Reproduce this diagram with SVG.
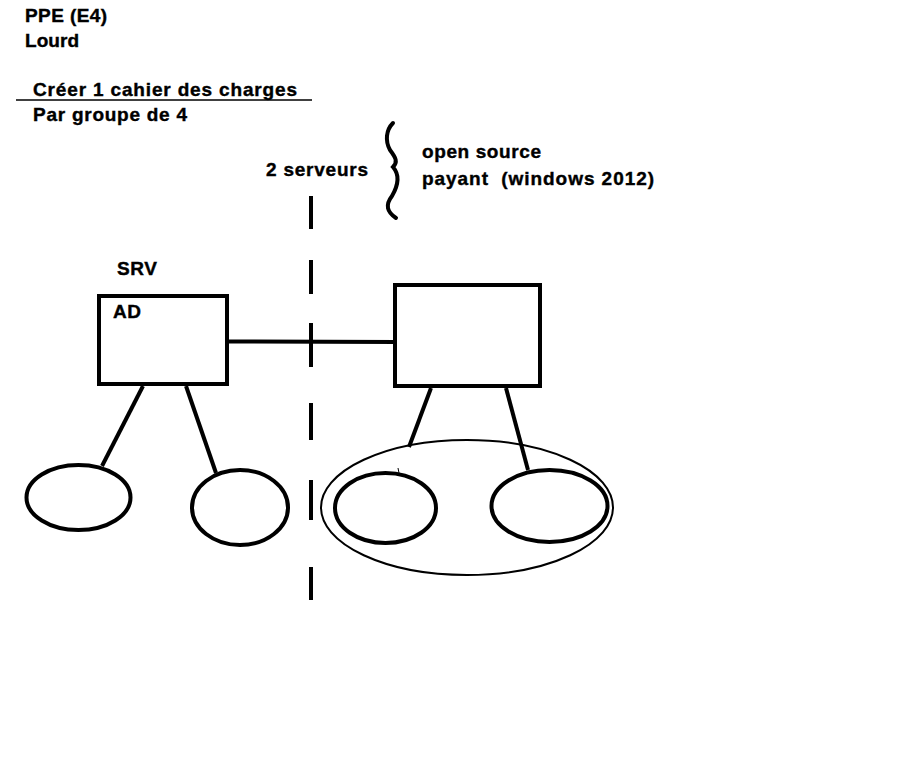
<svg xmlns="http://www.w3.org/2000/svg" width="908" height="779" viewBox="0 0 908 779">
<style>
text{font-family:"Liberation Sans",Arial,sans-serif;font-weight:bold;font-size:19px;fill:#000;stroke:#000;stroke-width:0.4;white-space:pre}
.thick{fill:none;stroke:#000;stroke-width:4}
.thin{fill:none;stroke:#000;stroke-width:2}
</style>
<rect width="908" height="779" fill="#fff"/>
<g id="title">
<text x="25" y="22" textLength="82" lengthAdjust="spacing">PPE (E4)</text>
<text x="25" y="47" textLength="54" lengthAdjust="spacing">Lourd</text>
<text x="33" y="96" textLength="264" lengthAdjust="spacing">Créer 1 cahier des charges</text>
<line x1="16" y1="100" x2="312" y2="100" stroke="#000" stroke-width="1.5"/>
<text x="33" y="121" textLength="154" lengthAdjust="spacing">Par groupe de 4</text>
</g>
<g id="notes">
<text x="266" y="176" textLength="102" lengthAdjust="spacing">2 serveurs</text>
<path class="thick" stroke-linecap="round" d="M393,123 C386,130 385,141 390,150 C396,158 398,162 393,167 C399,174 399,184 392,196 C385,205 387,212 396,218"/>
<text x="422" y="158" textLength="119" lengthAdjust="spacing">open source</text>
<text x="422" y="185" textLength="232" lengthAdjust="spacing" xml:space="preserve">payant  (windows 2012)</text>
</g>
<g id="divider">
<path class="thick" d="M311,196V229M311,260V294M311,323V367M311,403V440M311,480V520M311,567V600"/>
</g>
<g id="srv-ad">
<text x="117" y="275" textLength="40" lengthAdjust="spacing">SRV</text>
<rect class="thick" x="99" y="296" width="128" height="88"/>
<text x="113" y="318" textLength="28" lengthAdjust="spacing">AD</text>
</g>
<g id="srv2">
<rect class="thick" x="395" y="285" width="145" height="101"/>
</g>
<g id="client1"><ellipse class="thick" cx="78.5" cy="497.5" rx="52" ry="32.5"/></g>
<g id="client2"><ellipse class="thick" cx="240" cy="507.5" rx="48" ry="37.5"/></g>
<g id="group"><ellipse class="thin" cx="467" cy="507.5" rx="146" ry="67.5"/></g>
<g id="client3"><ellipse class="thick" cx="385.5" cy="508" rx="50.5" ry="35"/>
<line x1="398" y1="468" x2="399" y2="473" stroke="#000" stroke-width="1"/></g>
<g id="client4"><ellipse class="thick" cx="549.5" cy="506" rx="58" ry="36"/></g>
<g id="connectors" stroke="#000" stroke-width="4" fill="none">
<line x1="229" y1="341.5" x2="397" y2="342"/>
<line x1="143" y1="386" x2="102" y2="466"/>
<line x1="186" y1="386" x2="216" y2="473"/>
<line x1="431" y1="388" x2="409" y2="447"/>
<line x1="506" y1="388" x2="528" y2="470"/>
</g>
</svg>
